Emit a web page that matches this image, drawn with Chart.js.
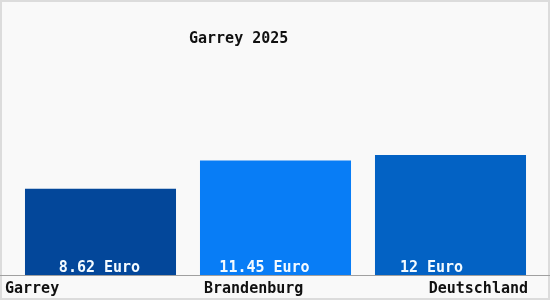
<!DOCTYPE html>
<html>
<head>
<meta charset="utf-8">
<script src="https://cdn.jsdelivr.net/npm/chart.js@4/dist/chart.umd.min.js"></script>
<style>
  html, body { margin: 0; padding: 0; background: #fff; }
  #wrap { width: 550px; height: 300px; position: relative; }
</style>
</head>
<body>
<div id="wrap"><canvas id="mycanvas"></canvas></div>
<script>
var chartTitle = 'Garrey 2025';
var places = ['Garrey', 'Brandenburg', 'Deutschland'];
var wages = [8.62, 11.45, 12];
var wageLabels = ['8.62 Euro', '11.45 Euro', '12 Euro'];
var barColors = ['#03479a', '#087df6', '#0362c4'];

// draws frame, title, baseline and all the texts
var textPlugin = {
    id: 'texts',
    beforeDraw: function (chart) {
        var c = chart.ctx;
        c.save();
        c.fillStyle = '#f9f9f9';
        c.fillRect(0, 0, chart.width, chart.height);
        c.strokeStyle = '#dcdcdc';
        c.lineWidth = 2;
        c.strokeRect(1, 1, chart.width - 2, chart.height - 2);
        c.restore();
    },
    afterDatasetsDraw: function (chart) {
        var c = chart.ctx;
        var area = chart.chartArea;
        var bars = chart.getDatasetMeta(0).data;
        c.save();
        // baseline
        c.strokeStyle = '#a0a0a0';
        c.lineWidth = 1;
        c.beginPath();
        c.moveTo(0, area.bottom + 0.5);
        c.lineTo(chart.width, area.bottom + 0.5);
        c.stroke();

        c.textBaseline = 'middle';
        c.font = 'bold 15px "DejaVu Sans Mono", monospace';
        c.fillStyle = '#111';
        c.textAlign = 'left';
        c.fillText(chartTitle, 189, 39);

        var shift = [-1, -11, -19];
        for (var i = 0; i < bars.length; i++) {
            var b = bars[i];
            c.fillStyle = '#f4fbff';
            c.textAlign = 'center';
            c.fillText(wageLabels[i], b.x + shift[i], area.bottom - 7);

            c.fillStyle = '#111';
            if (i === 0) {
                c.textAlign = 'left';
                c.fillText(places[i], 5, area.bottom + 14);
            } else if (i === bars.length - 1) {
                c.textAlign = 'right';
                c.fillText(places[i], b.x + b.width / 2 + 2, area.bottom + 14);
            } else {
                c.textAlign = 'left';
                c.fillText(places[i], b.x - b.width / 2 + 4, area.bottom + 14);
            }
        }
        c.restore();
    }
};

var ctx = document.getElementById('mycanvas');
var barGraph = new Chart(ctx, {
    type: 'bar',
    data: {
        labels: places,
        datasets: [{
            data: wages,
            backgroundColor: barColors,
            borderWidth: 0,
            categoryPercentage: 1,
            barPercentage: 0.863
        }]
    },
    options: {
        responsive: true,
        maintainAspectRatio: false,
        animation: false,
        layout: { padding: { top: 25, bottom: 25, left: 13, right: 12 } },
        plugins: {
            legend: { display: false },
            tooltip: { enabled: false },
            title: { display: false }
        },
        scales: {
            x: { display: false },
            y: { display: false, min: 0, max: 25 }
        }
    },
    plugins: [textPlugin]
});
</script>
</body>
</html>
